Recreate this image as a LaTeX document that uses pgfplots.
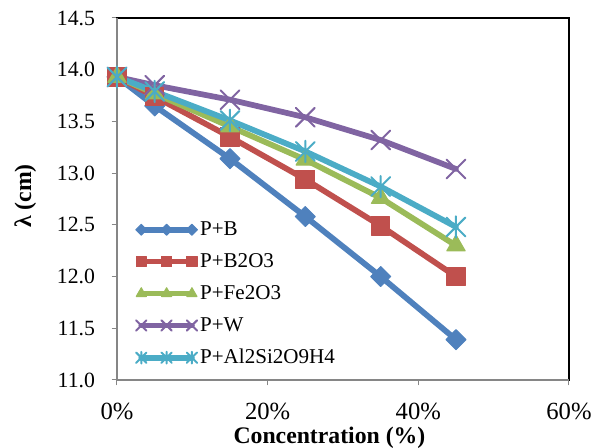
\documentclass[border=0pt]{standalone}
\usepackage{fontspec}
\setmainfont{Liberation Serif}
\usepackage{pgfplots}
\pgfplotsset{compat=1.18}
\definecolor{cB}{HTML}{4F81BD}
\definecolor{cR}{HTML}{C0504D}
\definecolor{cG}{HTML}{9BBB59}
\definecolor{cP}{HTML}{8064A2}
\definecolor{cC}{HTML}{4BACC6}
\definecolor{axgray}{HTML}{868686}
\pgfdeclareplotmark{xstar}{%
  \pgfpathmoveto{\pgfqpoint{-.7071\pgfplotmarksize}{-.7071\pgfplotmarksize}}%
  \pgfpathlineto{\pgfqpoint{.7071\pgfplotmarksize}{.7071\pgfplotmarksize}}%
  \pgfpathmoveto{\pgfqpoint{-.7071\pgfplotmarksize}{.7071\pgfplotmarksize}}%
  \pgfpathlineto{\pgfqpoint{.7071\pgfplotmarksize}{-.7071\pgfplotmarksize}}%
  \pgfpathmoveto{\pgfqpoint{0pt}{-.8\pgfplotmarksize}}%
  \pgfpathlineto{\pgfqpoint{0pt}{.8\pgfplotmarksize}}%
  \pgfusepathqstroke}
\begin{document}
\begin{tikzpicture}
\begin{axis}[
  at={(0,0)}, anchor=south west,
  scale only axis, width=339pt, height=271.5pt,
  xmin=0, xmax=60, ymin=11, ymax=14.5,
  xtick={0,20,40,60}, xticklabels={0\%,20\%,40\%,60\%},
  ytick={11,11.5,12,12.5,13,13.5,14,14.5},
  yticklabels={11.0,11.5,12.0,12.5,13.0,13.5,14.0,14.5},
  xticklabel style={font=\fontsize{18.5}{21}\selectfont, yshift=-10pt},
  yticklabel style={font=\fontsize{16.3}{19}\selectfont, xshift=-9pt},
  tick align=outside, major tick length=4pt,
  tick style={axgray, line width=0.75pt},
  xtick pos=bottom, ytick pos=left,
  axis line style={black, line width=0.9pt},
  clip=false,
  xlabel={\textbf{Concentration (\%)}},
  ylabel={\textbf{λ (cm)}},
  label style={font=\fontsize{17.8}{21}\selectfont},
  xlabel style={at={(axis description cs:0.47,-0.16)}, anchor=center},
  ylabel style={at={(axis description cs:-0.203,0.508)}, anchor=center},
  legend style={draw=none, fill=none, at={(axis description cs:0.038,0.027)}, anchor=south west,
    font=\fontsize{15.8}{18}\selectfont, row sep=8pt, inner sep=1pt},
  legend cell align=left,
  legend image code/.code={\draw[#1, every mark/.append style={scale=0.55}] plot coordinates {(0pt,0pt) (19pt,0pt) (38pt,0pt)};},
  every axis plot/.append style={line width=4.3pt, mark repeat=1, line cap=round, line join=round},
]
\addplot[color=cB, mark=square*, mark size=5.3pt, mark options={rotate=45, line width=0.75pt}] coordinates {(0,13.93) (5,13.65) (15,13.14) (25,12.58) (35,12.00) (45,11.39)};
\addlegendentry{P+B}
\addplot[color=cR, mark=square*, mark size=7pt, mark options={line width=0.75pt}] coordinates {(0,13.93) (5,13.74) (15,13.35) (25,12.94) (35,12.49) (45,12.00)};
\addlegendentry{P+B2O3}
\addplot[color=cG, mark=triangle*, mark size=8pt, mark options={line width=0.75pt}] coordinates {(0,13.93) (5,13.77) (15,13.45) (25,13.13) (35,12.76) (45,12.30)};
\addlegendentry{P+Fe2O3}
\addplot[color=cP, mark=x, mark size=10pt, mark options={line width=1.5pt}] coordinates {(0,13.93) (5,13.85) (15,13.71) (25,13.54) (35,13.32) (45,13.04)};
\addlegendentry{P+W}
\addplot[color=cC, mark=xstar, mark size=10pt, mark options={line width=1.5pt}] coordinates {(0,13.93) (5,13.79) (15,13.51) (25,13.21) (35,12.87) (45,12.48)};
\addlegendentry{P+Al2Si2O9H4}
\draw[axgray, line width=0.9pt] (rel axis cs:0,1) -- (rel axis cs:0,0) -- (rel axis cs:1,0);
\end{axis}
\pgfresetboundingbox
\path (-87.75pt,-51pt) rectangle (362.25pt,285pt);
\end{tikzpicture}
\end{document}
